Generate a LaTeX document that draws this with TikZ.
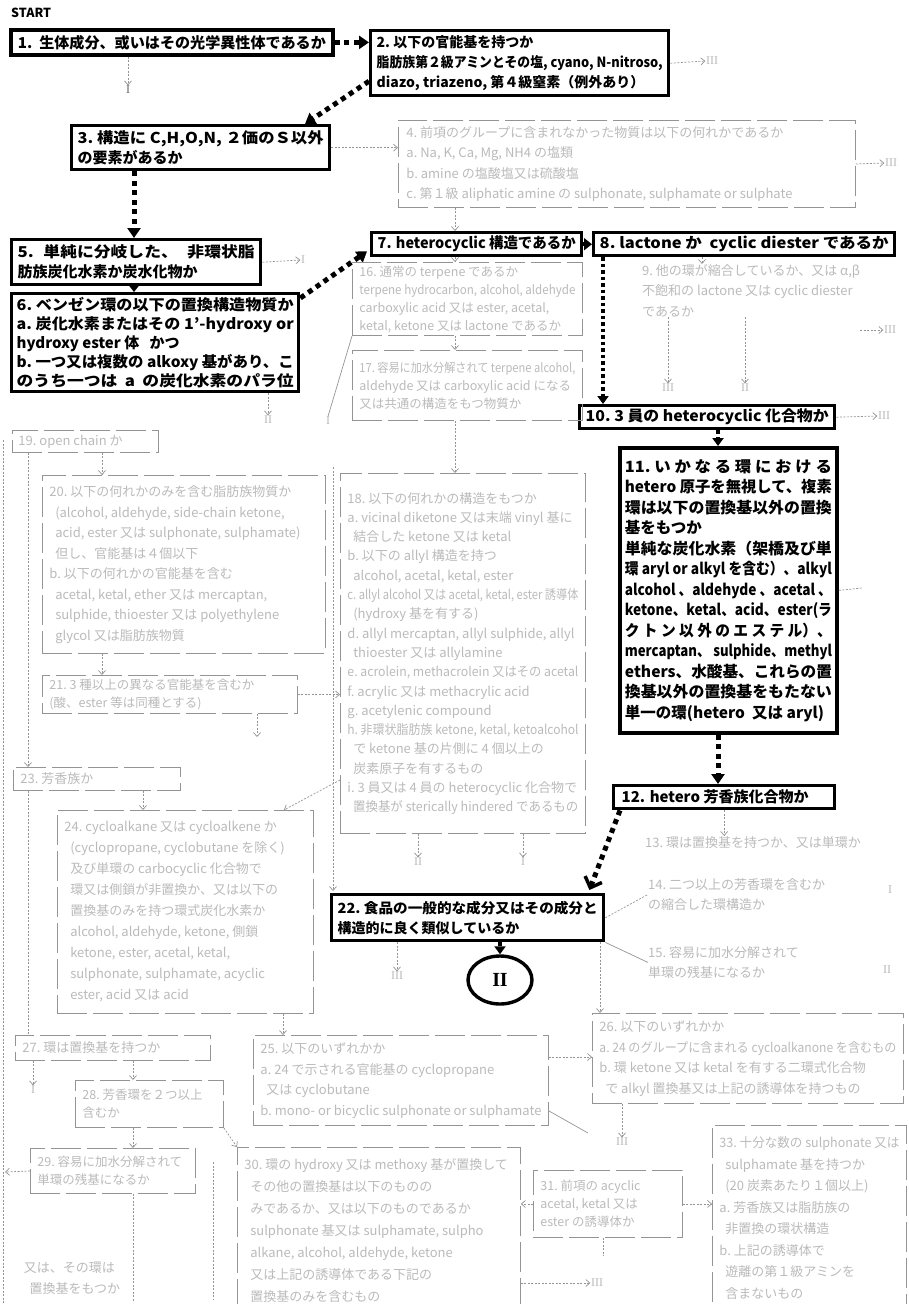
\documentclass[tikz,border=0pt]{standalone}
\usepackage{fontspec}
\usepackage{graphicx}
\setmainfont{Noto Sans CJK JP}
\newfontfamily\romanf{Liberation Serif}
\usetikzlibrary{arrows.meta,calc,shapes.geometric}
\definecolor{fadeT}{gray}{0.73}
\definecolor{fadeL}{gray}{0.58}
\newsavebox\jbox
% justified line: squeeze if too wide, else widen glyphs up to 12% and stretch spaces
\newcommand\jl[2]{\sbox\jbox{#2}%
  \ifdim\wd\jbox>#1pt\relax\resizebox{#1pt}{\ht\jbox}{\usebox\jbox}%
  \else\ifdim 1.12\wd\jbox<#1pt\relax
     \scalebox{1.12}[1]{\makebox[\dimexpr #1pt*25/28\relax][s]{#2}}%
  \else\resizebox{#1pt}{\ht\jbox}{\usebox\jbox}\fi\fi}
% left line: squeeze if too wide
\newcommand\ml[2]{\sbox\jbox{#2}\ifdim\wd\jbox>#1pt\relax\resizebox{#1pt}{\ht\jbox}{\usebox\jbox}\else\makebox[#1pt][l]{#2}\fi}
\newcommand\bfs{\fontsize{15}{20}\selectfont\bfseries}
\newcommand\fds{\fontsize{13}{20.5}\selectfont}
\newcommand\fdn{\fontsize{12.5}{18}\selectfont}
\newcommand\fdt{\fontsize{13}{19.3}\selectfont}
\newcommand\fdw{\fontsize{13}{21.5}\selectfont}
\tikzset{
  bb/.style={draw, line width=3.4pt, anchor=north west, inner sep=0pt, align=left, font=\bfs},
  fb/.style={draw=fadeL, line width=0.9pt, dash pattern=on 30pt off 6pt, anchor=north west, inner sep=0pt, align=left, font=\fds, text=fadeT},
  ft/.style={anchor=north west, inner sep=0pt, align=left, font=\fds, text=fadeT},
  flab/.style={inner sep=0.5pt, font=\romanf\fontsize{12}{12}\selectfont, text=fadeT},
  farr/.style={draw=fadeL, line width=0.7pt, dash pattern=on 2pt off 1.5pt, -{Straight Barb[length=4pt,width=7pt]}},
  fln/.style={draw=fadeL, line width=0.7pt, dash pattern=on 2pt off 1.5pt},
  fsol/.style={draw=fadeL, line width=0.7pt},
  sqarr/.style={line width=5pt, dash pattern=on 5pt off 4.5pt, -{Triangle[length=10pt,width=13pt]}},
  sqthin/.style={line width=3.5pt, dash pattern=on 3.5pt off 3pt, -{Triangle[length=8pt,width=11pt]}},
  triarr/.style={line width=3pt, -{Triangle[length=8pt,width=12pt]}},
  solarr/.style={line width=4pt, -{Triangle[length=8pt,width=12pt]}},
  barbarr/.style={line width=5pt, dash pattern=on 5pt off 4.5pt, -{Straight Barb[length=9pt,width=18pt,line width=3.5pt]}}
}
\begin{document}
\begin{tikzpicture}[x=1pt,y=-1pt]
\useasboundingbox (0,0) rectangle (908,1304);

% ---------------- bold path ----------------
\node[anchor=west, inner sep=0pt, font=\fontsize{12.5}{12.5}\selectfont\bfseries] (start) at (11,13) {START};

\node[bb, line width=3.8pt, minimum width=322pt, minimum height=25pt] (b1) at (9,28)
 {\jl{308}{1.\ \ 生体成分、或いはその光学異性体であるか}};

\node[bb, minimum width=298pt, minimum height=65pt, font=\fontsize{14}{20}\selectfont\bfseries] (b2) at (369,29)
 {\ml{286}{2.\ 以下の官能基を持つか}\\
  \jl{286}{脂肪族第２級アミンとその塩, cyano, N-nitroso,}\\
  \ml{286}{diazo, triazeno,\ 第４級窒素（例外あり）}};

\node[bb, minimum width=258pt, minimum height=44pt] (b3) at (70,124)
 {\jl{246}{3.\ 構造に C,H,O,N, ２価のＳ以外}\\
  \ml{246}{の要素があるか}};

\node[bb, minimum width=249pt, minimum height=45pt] (b5) at (10,238)
 {\jl{237}{5.\ 単純に分岐した、 非環状脂}\\
  \ml{237}{肪族炭化水素か炭水化物か}};

\node[bb, minimum width=287pt, minimum height=98pt, font=\fontsize{15}{19}\selectfont\bfseries] (b6) at (10,292)
 {\jl{277}{6.\ ベンゼン環の以下の置換構造物質か}\\
  \jl{277}{a.\ 炭化水素またはその 1'-hydroxy\ or}\\
  \ml{277}{hydroxy ester 体\ \ \ かつ}\\
  \jl{277}{b.\ 一つ又は複数の alkoxy 基があり、こ}\\
  \jl{277}{のうち一つは a の炭化水素のパラ位}};

\node[bb, minimum width=210pt, minimum height=23pt] (b7) at (370,231)
 {\jl{198}{7. heterocyclic 構造であるか}};

\node[bb, minimum width=301pt, minimum height=23pt] (b8) at (592,231)
 {\jl{289}{8.\ lactone か\ \ cyclic diester\ であるか}};

\node[bb, minimum width=255pt, minimum height=23pt] (b10) at (578,404)
 {\jl{243}{10.\ 3 員の heterocyclic 化合物か}};

\node[bb, line width=3.8pt, minimum width=217pt, minimum height=285pt, font=\fontsize{15.5}{20.5}\selectfont\bfseries] (b11) at (618,446)
 {\jl{207}{11.\ い か な る 環 に お け る}\\
  \jl{207}{hetero 原子を無視して、複素}\\
  \jl{207}{環は以下の置換基以外の置換}\\
  \ml{207}{基をもつか}\\
  \jl{207}{単純な炭化水素（架橋及び単}\\
  \jl{207}{環 aryl or alkyl を含む）、alkyl}\\
  \jl{207}{alcohol 、aldehyde 、acetal 、}\\
  \jl{207}{ketone、ketal、acid、ester(ラ}\\
  \jl{207}{ク ト ン 以 外 の エ ス テ ル）、}\\
  \jl{207}{mercaptan、 sulphide、methyl}\\
  \jl{207}{ethers、水酸基、これらの置}\\
  \jl{207}{換基以外の置換基をもたない}\\
  \ml{207}{単一の環(hetero\ \ 又は aryl)}};

\node[bb, minimum width=221pt, minimum height=23pt] (b12) at (612,784)
 {\ml{205}{12. hetero 芳香族化合物か}};

\node[bb, minimum width=272pt, minimum height=46pt, font=\fontsize{14}{20}\selectfont\bfseries] (b22) at (330,893)
 {\jl{260}{22.\ 食品の一般的な成分又はその成分と}\\
  \ml{260}{構造的に良く類似しているか}};

\node[draw, ellipse, line width=3.4pt, minimum width=64pt, minimum height=48pt, inner sep=0pt] (c2) at (500,980)
 {\romanf\fontsize{20}{20}\selectfont\bfseries I\kern-0.4pt I};

% bold connectors
\draw[sqarr] (b1.east) -- (b1.east -| b2.west);
\draw[sqarr] ($(b2.west)+(0,18)$) -- ($(b3.north west)+(235,0)$);
\draw[sqarr] ($(b3.south west)+(64,0)$) -- ($(b5.north west)+(124,0)$);
\draw[triarr] ($(b5.south west)+(124,0)$) -- ($(b6.north west)+(124,0)$);
\draw[sqarr] ($(b6.north east)+(0,6)$) -- ($(b7.south west)+(-3,-6)$);
\draw[solarr] (b7.east) -- (b8.west);
\draw[sqthin] ($(b8.south west)+(11,0)$) -- ($(b10.north west)+(25,0)$);
\draw[sqthin] ($(b10.south west)+(140,0)$) -- ($(b11.north west)+(100,0)$);
\draw[sqarr] ($(b11.south west)+(100,0)$) -- ($(b12.north west)+(106,0)$);
\draw[barbarr] ($(b12.south west)+(8,0)$) -- ($(b22.north east)+(-16,-3)$);
\draw[sqthin] (b22.south -| c2.north) -- (c2.north);

% ---------------- faded part ----------------
\node[flab, text=black!60] (l1a) at (128,90) {I};
\draw[farr] (b1.south -| l1a.north) -- (l1a.north);
\node[flab] (l3a) at (712,61) {III};
\draw[farr] (b2.east) -- (l3a.west);

\node[fb, minimum width=457pt, minimum height=87pt] (b4) at (398,120)
 {\ml{441}{4.\ 前項のグループに含まれなかった物質は以下の何れかであるか}\\
  \ml{441}{a.\ Na, K, Ca, Mg, NH4 の塩類}\\
  \ml{441}{b.\ amine の塩酸塩又は硫酸塩}\\
  \ml{441}{c.\ 第１級 aliphatic amine の sulphonate, sulphamate or sulphate}};
\draw[farr] (b3.east) -- (b3.east -| b4.west);
\node[flab] (l3b) at (891,163) {III};
\draw[farr] (b4.east) -- (l3b.west);
\coordinate (a4) at ($(b7.north west)+(85,0)$);
\draw[farr] (a4 |- b4.south) -- (a4);

\node[flab] (l1b) at (303,260) {I};
\draw[farr] (b5.east) -- (l1b.west);

\node[fb, minimum width=230pt, minimum height=73pt, font=\fdn] (b16) at (352,262)
 {\ml{216}{16.\ 通常の terpene であるか}\\
  \ml{216}{terpene hydrocarbon, alcohol, aldehyde}\\
  \ml{216}{carboxylic acid 又は ester, acetal,}\\
  \ml{216}{ketal, ketone 又は lactone であるか}};
\draw[farr] (a4 |- b7.south) -- (a4 |- b16.north);

\node[fb, minimum width=230pt, minimum height=70pt, font=\fdn] (b17) at (352,350)
 {\ml{216}{17.\ 容易に加水分解されて terpene alcohol,}\\
  \ml{216}{aldehyde 又は carboxylic acid になる}\\
  \ml{216}{又は共通の構造をもつ物質か}};
\draw[farr] (a4 |- b16.south) -- (a4 |- b17.north);

\node[ft] (t9) at (642,264)
 {\ml{245}{9.\ 他の環が縮合しているか、又は α,β}\\
  \ml{245}{不飽和の lactone 又は cyclic diester}\\
  \ml{245}{であるか}};
\coordinate (a8) at ($(b8.south west)+(110,0)$);
\draw[farr] (a8) -- (a8 |- t9.north);
\node[flab] (l9a) at (668,388) {III};
\node[flab] (l9b) at (745,388) {II};
\draw[farr] (t9.south -| l9a.north) -- (l9a.north);
\draw[farr] (t9.south -| l9b.north) -- (l9b.north);
\node[flab] (l9c) at (890,330) {III};
\coordinate (t9e) at (860,330);
\draw[farr] (t9e) -- (l9c.west);

\node[flab] (l10) at (884,416) {III};
\draw[farr] (b10.east) -- (l10.west);
\coordinate (b11e) at (862,588);
\draw[fln] (b11.east) -- (b11e);

\node[ft] (t13) at (645,836) {13.\ 環は置換基を持つか、又は単環か};
\draw[farr] (b12.south) -- (b12.south |- t13.north);
\node[ft] (t14) at (648,878) {14.\ 二つ以上の芳香環を含むか\\ の縮合した環構造か};
\node[ft] (t15) at (648,946) {15.\ 容易に加水分解されて\\ 単環の残基になるか};
\node[flab] (l14) at (890,890) {I};
\node[flab] (l15) at (887,970) {II};
\draw[fln] (b22.east) -- (t14.west);
\draw[fsol] (b22.south east) -- (t15.west);

\node[fb, minimum width=311pt, minimum height=90pt] (b24) at (592,1013)
 {\ml{297}{26.\ 以下のいずれかか}\\
  \ml{297}{a.\ 24 のグループに含まれる cycloalkanone を含むもの}\\
  \ml{297}{b.\ 環 ketone 又は ketal を有する二環式化合物}\\
  \ml{297}{\ \ で alkyl 置換基又は上記の誘導体を持つもの}};
\coordinate (d22) at ($(b24.north west)+(8,0)$);
\draw[farr] (d22 |- b22.south) -- (d22);
\node[flab] (l24) at (622,1142) {III};
\draw[farr] (l24.north |- b24.south) -- (l24.north);

\node[fb, minimum width=295pt, minimum height=90pt] (b27) at (253,1035)
 {\ml{281}{25.\ 以下のいずれかか}\\
  \ml{281}{a.\ 24 で示される官能基の cyclopropane}\\
  \ml{281}{\ \ 又は cyclobutane}\\
  \ml{281}{b.\ mono- or bicyclic sulphonate or sulphamate}};
\coordinate (a27) at ($(b27.north east)+(0,22)$);
\draw[farr] (a27) -- (a27 -| b24.west);
\coordinate (e27) at (588,1133);
\draw[fsol] ($(b27.south east)+(0,-15)$) -- (e27);

\node[fb, minimum width=245pt, minimum height=360pt, font=\fdt] (b18) at (340,473)
 {\ml{231}{18.\ 以下の何れかの構造をもつか}\\
  \ml{231}{a.\ vicinal diketone 又は末端 vinyl 基に}\\
  \ml{231}{\ \ 結合した ketone 又は ketal}\\
  \ml{231}{b.\ 以下の allyl 構造を持つ}\\
  \ml{231}{\ \ alcohol, acetal, ketal, ester}\\
  \ml{231}{c.\ allyl alcohol 又は acetal, ketal, ester 誘導体}\\
  \ml{231}{\ \ (hydroxy 基を有する)}\\
  \ml{231}{d.\ allyl mercaptan, allyl sulphide, allyl}\\
  \ml{231}{\ \ thioester 又は allylamine}\\
  \ml{231}{e.\ acrolein, methacrolein 又はその acetal}\\
  \ml{231}{f.\ acrylic 又は methacrylic acid}\\
  \ml{231}{g.\ acetylenic compound}\\
  \ml{231}{h.\ 非環状脂肪族 ketone, ketal, ketoalcohol}\\
  \ml{231}{\ \ で ketone 基の片側に 4 個以上の}\\
  \ml{231}{\ \ 炭素原子を有するもの}\\
  \ml{231}{i.\ 3 員又は 4 員の heterocyclic 化合物で}\\
  \ml{231}{\ \ 置換基が sterically hindered であるもの}};
\draw[farr] (a4 |- b17.south) -- (a4 |- b18.north);
\node[flab] (l18a) at (418,862) {II};
\node[flab] (l18b) at (523,862) {I};
\draw[farr] (b18.south -| l18a.north) -- (l18a.north);
\draw[farr] (b18.south -| l18b.north) -- (l18b.north);

\node[flab] (l16) at (328,421) {I};
\draw[fsol] (b16.south west) -- (l16.north);
\coordinate (v1) at ($(b22.north west)+(3,-426)$);
\draw[farr] (v1) -- ($(b22.north west)+(3,-2)$);

\node[flab] (l6) at (268,420) {II};
\draw[farr] (b6.south -| l6.north) -- (l6.north);

\node[fb, minimum width=146pt, minimum height=22pt] (b19) at (12,430)
 {\ml{134}{19.\ open chain か}};

\node[fb, minimum width=283pt, minimum height=178pt] (b20) at (42,475)
 {\ml{269}{20.\ 以下の何れかのみを含む脂肪族物質か}\\
  \ml{269}{\ \ (alcohol, aldehyde, side-chain ketone,}\\
  \ml{269}{\ \ acid, ester 又は sulphonate, sulphamate)}\\
  \ml{269}{\ \ 但し、官能基は４個以下}\\
  \ml{269}{b.\ 以下の何れかの官能基を含む}\\
  \ml{269}{\ \ acetal, ketal, ether 又は mercaptan,}\\
  \ml{269}{\ \ sulphide, thioester 又は polyethylene}\\
  \ml{269}{\ \ glycol 又は脂肪族物質}};
\coordinate (a19) at ($(b20.north west)+(60,0)$);
\draw[farr] (a19 |- b19.south) -- (a19);

\node[fb, minimum width=255pt, minimum height=38pt, font=\fdn] (b21) at (42,675)
 {\ml{241}{21.\ 3 種以上の異なる官能基を含むか}\\
  \ml{241}{(酸、ester 等は同種とする)}};
\coordinate (a20) at ($(b21.north west)+(60,0)$);
\draw[farr] (a20 |- b20.south) -- (a20);
\draw[farr] (b21.east) -- (b21.east -| b18.west);
\coordinate (e21) at (257,737);
\draw[farr] (e21 |- b21.south) -- (e21);

\node[fb, minimum width=167pt, minimum height=23pt] (b26) at (13,767)
 {\ml{153}{23.\ 芳香族か}};
\coordinate (a26) at ($(b26.north west)+(15,0)$);
\draw[farr] (a26 |- b19.south) -- (a26);

\node[fb, minimum width=256pt, minimum height=203pt, font=\fontsize{13}{21}\selectfont] (b23) at (57,810)
 {\ml{242}{24.\ cycloalkane 又は cycloalkene か}\\
  \ml{242}{\ \ (cyclopropane, cyclobutane を除く)}\\
  \ml{242}{\ \ 及び単環の carbocyclic 化合物で}\\
  \ml{242}{\ \ 環又は側鎖が非置換か、又は以下の}\\
  \ml{242}{\ \ 置換基のみを持つ環式炭化水素か}\\
  \ml{242}{\ \ alcohol, aldehyde, ketone, 側鎖}\\
  \ml{242}{\ \ ketone, ester, acetal, ketal,}\\
  \ml{242}{\ \ sulphonate, sulphamate, acyclic}\\
  \ml{242}{\ \ ester, acid 又は acid}};
\coordinate (a23) at ($(b23.north west)+(86,0)$);
\draw[farr] (a23 |- b26.south) -- (a23);
\draw[farr] ($(b18.north west)+(0,307)$) -- ($(b23.north east)+(-30,0)$);
\coordinate (a25) at ($(b27.north west)+(30,0)$);
\draw[farr] (a25 |- b23.south) -- (a25);

\node[fb, minimum width=195pt, minimum height=25pt] (b28) at (15,1035)
 {\ml{181}{27.\ 環は置換基を持つか}};
\coordinate (a28) at ($(b28.north west)+(13,0)$);
\draw[fln] (a28 |- b26.south) -- (a28);
\node[flab] (l28) at (33,1090) {I};
\draw[farr] (l28.north |- b28.south) -- (l28.north);

\node[fb, minimum width=148pt, minimum height=47pt, font=\fdn] (b29) at (75,1080)
 {\ml{134}{28.\ 芳香環を２つ以上}\\ \ml{134}{含むか}};
\coordinate (a29) at ($(b29.north west)+(58,0)$);
\draw[farr] (a29 |- b28.south) -- (a29);

\node[fb, minimum width=165pt, minimum height=45pt, font=\fdn] (b30) at (30,1148)
 {\ml{151}{29.\ 容易に加水分解されて}\\ \ml{151}{単環の残基になるか}};
\coordinate (a30) at ($(b30.north west)+(103,0)$);
\draw[farr] (a30 |- b29.south) -- (a30);
\coordinate (e30) at (5,1172);
\draw[farr] (b30.west) -- (e30);
\coordinate (a31) at ($(b30.south west)+(103,108)$);
\draw[fln] ($(b30.south west)+(103,0)$) -- (a31);
\node[ft] (t34) at (12,1262) {\ \ \ \ 又は、その環は\\ \ \ \ \ \ \ 置換基をもつか};

\node[fb, minimum width=283pt, minimum height=166pt, font=\fontsize{13}{22}\selectfont] (b31) at (237,1147)
 {\ml{269}{30.\ 環の hydroxy 又は methoxy 基が置換して}\\
  \ml{269}{\ \ その他の置換基は以下のものの}\\
  \ml{269}{\ \ みであるか、又は以下のものであるか}\\
  \ml{269}{\ \ sulphonate 基又は sulphamate, sulpho}\\
  \ml{269}{\ \ alkane, alcohol, aldehyde, ketone}\\
  \ml{269}{\ \ 又は上記の誘導体である下記の}\\
  \ml{269}{\ \ 置換基のみを含むもの}};
\draw[farr] (b29.south east) -- (b31.north west);
\coordinate (a32) at ($(b31.north west)+(-24,15)$);
\draw[fln] (a32) -- ($(b31.north west)+(-24,153)$);

\node[fb, minimum width=149pt, minimum height=67pt, font=\fdn] (b32) at (533,1170)
 {\ml{135}{31.\ 前項の acyclic}\\ \ml{135}{acetal, ketal 又は}\\ \ml{135}{ester の誘導体か}};
\draw[farr] (b32.west) -- (b32.west -| b31.east);
\draw[fln] ($(b32.south west)+(70,0)$) -- ($(b32.south west)+(70,18)$);
\node[flab] (l32) at (597,1283) {III};
\draw[farr] (l32.west -| b31.east) -- (l32.west);

\node[fb, minimum width=194pt, minimum height=185pt, font=\fdw] (b33) at (712,1125)
 {\ml{180}{33.\ 十分な数の sulphonate 又は}\\
  \ml{180}{\ \ sulphamate 基を持つか}\\
  \ml{180}{\ \ (20 炭素あたり１個以上)}\\
  \ml{180}{a.\ 芳香族又は脂肪族の}\\
  \ml{180}{\ \ 非置換の環状構造}\\
  \ml{180}{b.\ 上記の誘導体で}\\
  \ml{180}{\ \ 遊離の第１級アミンを}\\
  \ml{180}{\ \ 含まないもの}};
\draw[farr] (b32.east) -- (b32.east -| b33.west);

\node[flab] (l22) at (397,976) {III};
\draw[farr] (b22.south -| l22.north) -- (l22.north);

\coordinate (lf1) at (3,440);
\coordinate (lf2) at (3,1304);
\draw[fln] (lf1) -- (lf2);
\end{tikzpicture}
\end{document}
